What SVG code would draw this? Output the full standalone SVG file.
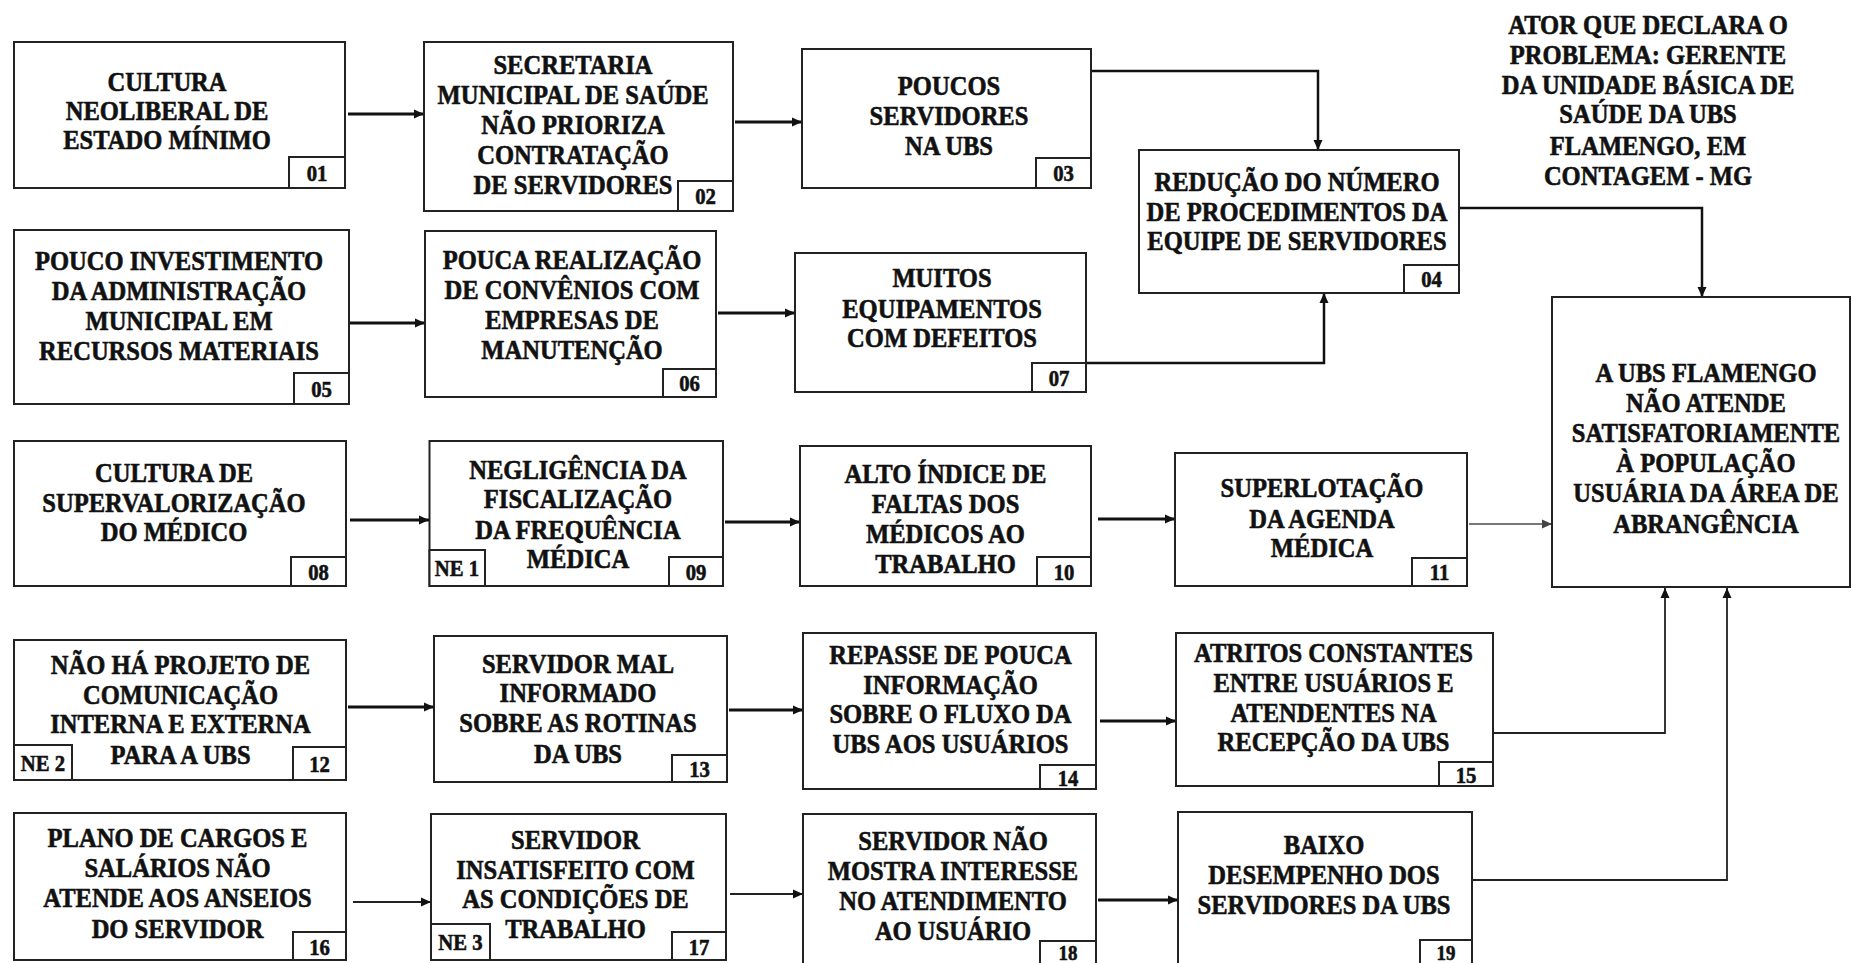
<svg xmlns="http://www.w3.org/2000/svg" width="1852" height="963" viewBox="0 0 1852 963">
<style>
.box{fill:#fff;stroke:#222;stroke-width:2}
.num{fill:#fff;stroke:#222;stroke-width:2}
text{font-family:"Liberation Serif","Times New Roman",serif;font-weight:bold;fill:#111;text-anchor:middle;stroke:#111;stroke-width:0.6}
.t text{font-size:27px}
.n text{font-size:23px}
.c{fill:none;stroke:#111;stroke-width:3}
.m{fill:none;stroke:#111;stroke-width:2.5}
.s{fill:none;stroke:#222;stroke-width:1.8}
.g{fill:none;stroke:#777;stroke-width:2}
</style>
<defs>
<marker id="ah" markerUnits="userSpaceOnUse" markerWidth="11" markerHeight="10" refX="10" refY="5" orient="auto"><path d="M0,0.5 L10,5 L0,9.5 z" fill="#111"/></marker>
<marker id="ahg" markerUnits="userSpaceOnUse" markerWidth="11" markerHeight="10" refX="10" refY="5" orient="auto"><path d="M0,0.5 L10,5 L0,9.5 z" fill="#444"/></marker>
</defs>
<rect width="1852" height="963" fill="#fff"/>

<g id="connectors">
<line class="c" x1="348" y1="114" x2="424" y2="114" marker-end="url(#ah)"/>
<line class="c" x1="735" y1="122" x2="802" y2="122" marker-end="url(#ah)"/>
<polyline class="m" points="1092,71 1318,71 1318,150" marker-end="url(#ah)"/>
<polyline class="m" points="1086,363 1324,363 1324,293" marker-end="url(#ah)"/>
<polyline class="m" points="1460,208 1702,208 1702,297" marker-end="url(#ah)"/>
<line class="c" x1="350" y1="323" x2="425" y2="323" marker-end="url(#ah)"/>
<line class="c" x1="718" y1="313" x2="795" y2="313" marker-end="url(#ah)"/>
<line class="c" x1="350" y1="520" x2="429" y2="520" marker-end="url(#ah)"/>
<line class="c" x1="725" y1="522" x2="800" y2="522" marker-end="url(#ah)"/>
<line class="c" x1="1098" y1="519" x2="1175" y2="519" marker-end="url(#ah)"/>
<line class="g" x1="1469" y1="524" x2="1552" y2="524" marker-end="url(#ahg)"/>
<line class="c" x1="348" y1="707" x2="434" y2="707" marker-end="url(#ah)"/>
<line class="c" x1="729" y1="710" x2="803" y2="710" marker-end="url(#ah)"/>
<line class="c" x1="1100" y1="721" x2="1176" y2="721" marker-end="url(#ah)"/>
<polyline class="s" points="1493,733 1665,733 1665,588" marker-end="url(#ah)"/>
<line class="s" x1="353" y1="902" x2="431" y2="902" marker-end="url(#ah)"/>
<line class="s" x1="730" y1="894" x2="803" y2="894" marker-end="url(#ah)"/>
<line class="c" x1="1098" y1="900" x2="1178" y2="900" marker-end="url(#ah)"/>
<polyline class="s" points="1472,880 1727,880 1727,588" marker-end="url(#ah)"/>
</g>

<g id="actor">
<g class="t" transform="translate(1648 0) scale(0.91 1)">
<text x="0" y="34">ATOR QUE DECLARA O</text>
<text x="0" y="64">PROBLEMA:  GERENTE</text>
<text x="0" y="94">DA UNIDADE BÁSICA DE</text>
<text x="0" y="123">SAÚDE DA UBS</text>
<text x="0" y="155">FLAMENGO, EM</text>
<text x="0" y="185">CONTAGEM  - MG</text>
</g>
</g>

<g id="n01">
<rect class="box" x="14" y="42" width="331" height="146"/>
<g class="t" transform="translate(167 0) scale(0.91 1)">
<text x="0" y="91">CULTURA</text>
<text x="0" y="120">NEOLIBERAL  DE</text>
<text x="0" y="149">ESTADO MÍNIMO</text>
</g>
<rect class="num" x="289" y="157" width="56" height="31"/>
<g class="n" transform="translate(317 0) scale(0.9 1)"><text x="0" y="181">01</text></g>
</g>

<g id="n02">
<rect class="box" x="424" y="42" width="309" height="169"/>
<g class="t" transform="translate(573 0) scale(0.91 1)">
<text x="0" y="74">SECRETARIA</text>
<text x="0" y="104">MUNICIPAL DE SAÚDE</text>
<text x="0" y="134">NÃO PRIORIZA</text>
<text x="0" y="164">CONTRATAÇÃO</text>
<text x="0" y="194">DE SERVIDORES</text>
</g>
<rect class="num" x="678" y="181" width="55" height="30"/>
<g class="n" transform="translate(705.5 0) scale(0.9 1)"><text x="0" y="204">02</text></g>
</g>

<g id="n03">
<rect class="box" x="802" y="49" width="289" height="139"/>
<g class="t" transform="translate(949 0) scale(0.91 1)">
<text x="0" y="95">POUCOS</text>
<text x="0" y="125">SERVIDORES</text>
<text x="0" y="155">NA UBS</text>
</g>
<rect class="num" x="1036" y="158" width="55" height="30"/>
<g class="n" transform="translate(1063.5 0) scale(0.9 1)"><text x="0" y="181">03</text></g>
</g>

<g id="n04">
<rect class="box" x="1139" y="150" width="320" height="143"/>
<g class="t" transform="translate(1297 0) scale(0.91 1)">
<text x="0" y="191">REDUÇÃO  DO NÚMERO</text>
<text x="0" y="221">DE PROCEDIMENTOS  DA</text>
<text x="0" y="250">EQUIPE  DE SERVIDORES</text>
</g>
<rect class="num" x="1404" y="265" width="55" height="28"/>
<g class="n" transform="translate(1431.5 0) scale(0.9 1)"><text x="0" y="287">04</text></g>
</g>

<g id="n05">
<rect class="box" x="14" y="230" width="335" height="174"/>
<g class="t" transform="translate(179 0) scale(0.91 1)">
<text x="0" y="270">POUCO INVESTIMENTO</text>
<text x="0" y="300">DA ADMINISTRAÇÃO</text>
<text x="0" y="330">MUNICIPAL EM</text>
<text x="0" y="360">RECURSOS  MATERIAIS</text>
</g>
<rect class="num" x="294" y="373" width="55" height="31"/>
<g class="n" transform="translate(321.5 0) scale(0.9 1)"><text x="0" y="397">05</text></g>
</g>

<g id="n06">
<rect class="box" x="425" y="231" width="291" height="166"/>
<g class="t" transform="translate(572 0) scale(0.91 1)">
<text x="0" y="269">POUCA REALIZAÇÃO</text>
<text x="0" y="299">DE CONVÊNIOS  COM</text>
<text x="0" y="329">EMPRESAS  DE</text>
<text x="0" y="359">MANUTENÇÃO</text>
</g>
<rect class="num" x="663" y="369" width="53" height="28"/>
<g class="n" transform="translate(689.5 0) scale(0.9 1)"><text x="0" y="391">06</text></g>
</g>

<g id="n07">
<rect class="box" x="795" y="253" width="291" height="139"/>
<g class="t" transform="translate(942 0) scale(0.91 1)">
<text x="0" y="287">MUITOS</text>
<text x="0" y="318">EQUIPAMENTOS</text>
<text x="0" y="347">COM DEFEITOS</text>
</g>
<rect class="num" x="1032" y="363" width="54" height="29"/>
<g class="n" transform="translate(1059 0) scale(0.9 1)"><text x="0" y="386">07</text></g>
</g>

<g id="n08">
<rect class="box" x="14" y="441" width="332" height="145"/>
<g class="t" transform="translate(174 0) scale(0.91 1)">
<text x="0" y="482">CULTURA DE</text>
<text x="0" y="512">SUPERVALORIZAÇÃO</text>
<text x="0" y="541">DO MÉDICO</text>
</g>
<rect class="num" x="291" y="557" width="55" height="29"/>
<g class="n" transform="translate(318.5 0) scale(0.9 1)"><text x="0" y="580">08</text></g>
</g>

<g id="n09">
<rect class="box" x="429.5" y="441" width="293.5" height="145"/>
<g class="t" transform="translate(578 0) scale(0.91 1)">
<text x="0" y="479">NEGLIGÊNCIA DA</text>
<text x="0" y="508">FISCALIZAÇÃO</text>
<text x="0" y="539">DA FREQUÊNCIA</text>
<text x="0" y="568">MÉDICA</text>
</g>
<rect class="num" x="669" y="557" width="54" height="29"/>
<g class="n" transform="translate(696 0) scale(0.9 1)"><text x="0" y="580">09</text></g>
<rect class="num" x="429.5" y="550" width="55.5" height="36"/>
<g class="n" transform="translate(457 0) scale(0.9 1)"><text x="0" y="576">NE 1</text></g>
</g>

<g id="n10">
<rect class="box" x="800" y="446" width="291" height="140"/>
<g class="t" transform="translate(945.5 0) scale(0.91 1)">
<text x="0" y="483">ALTO ÍNDICE DE</text>
<text x="0" y="513">FALTAS DOS</text>
<text x="0" y="543">MÉDICOS AO</text>
<text x="0" y="573">TRABALHO</text>
</g>
<rect class="num" x="1037" y="557" width="54" height="29"/>
<g class="n" transform="translate(1064 0) scale(0.9 1)"><text x="0" y="580">10</text></g>
</g>

<g id="n11">
<rect class="box" x="1175" y="453" width="292" height="133"/>
<g class="t" transform="translate(1322 0) scale(0.91 1)">
<text x="0" y="497">SUPERLOTAÇÃO</text>
<text x="0" y="528">DA AGENDA</text>
<text x="0" y="557">MÉDICA</text>
</g>
<rect class="num" x="1412" y="558" width="55" height="28"/>
<g class="n" transform="translate(1439.5 0) scale(0.9 1)"><text x="0" y="580">11</text></g>
</g>

<g id="n20">
<rect class="box" x="1552" y="297" width="298" height="290"/>
<g class="t" transform="translate(1706 0) scale(0.91 1)">
<text x="0" y="382">A UBS FLAMENGO</text>
<text x="0" y="412">NÃO ATENDE</text>
<text x="0" y="442">SATISFATORIAMENTE</text>
<text x="0" y="472">À POPULAÇÃO</text>
<text x="0" y="502">USUÁRIA DA ÁREA DE</text>
<text x="0" y="533">ABRANGÊNCIA</text>
</g>
</g>

<g id="n12">
<rect class="box" x="14" y="640" width="332" height="140"/>
<g class="t" transform="translate(180.5 0) scale(0.91 1)">
<text x="0" y="674">NÃO HÁ PROJETO  DE</text>
<text x="0" y="704">COMUNICAÇÃO</text>
<text x="0" y="733">INTERNA E EXTERNA</text>
<text x="0" y="764">PARA A UBS</text>
</g>
<rect class="num" x="293" y="747" width="53" height="33"/>
<g class="n" transform="translate(319.5 0) scale(0.9 1)"><text x="0" y="772">12</text></g>
<rect class="num" x="14" y="745" width="58" height="35"/>
<g class="n" transform="translate(43 0) scale(0.9 1)"><text x="0" y="771">NE 2</text></g>
</g>

<g id="n13">
<rect class="box" x="434" y="636" width="293" height="146"/>
<g class="t" transform="translate(578 0) scale(0.91 1)">
<text x="0" y="673">SERVIDOR  MAL</text>
<text x="0" y="702">INFORMADO</text>
<text x="0" y="732">SOBRE AS ROTINAS</text>
<text x="0" y="763">DA UBS</text>
</g>
<rect class="num" x="672" y="755" width="55" height="27"/>
<g class="n" transform="translate(699.5 0) scale(0.9 1)"><text x="0" y="777">13</text></g>
</g>

<g id="n14">
<rect class="box" x="803" y="633" width="293" height="156"/>
<g class="t" transform="translate(950.5 0) scale(0.91 1)">
<text x="0" y="664">REPASSE DE POUCA</text>
<text x="0" y="694">INFORMAÇÃO</text>
<text x="0" y="723">SOBRE O FLUXO DA</text>
<text x="0" y="753">UBS AOS USUÁRIOS</text>
</g>
<rect class="num" x="1040" y="765" width="56" height="24"/>
<g class="n" transform="translate(1068 0) scale(0.9 1)"><text x="0" y="786">14</text></g>
</g>

<g id="n15">
<rect class="box" x="1176" y="633" width="317" height="153"/>
<g class="t" transform="translate(1333.5 0) scale(0.91 1)">
<text x="0" y="662">ATRITOS CONSTANTES</text>
<text x="0" y="692">ENTRE USUÁRIOS  E</text>
<text x="0" y="722">ATENDENTES  NA</text>
<text x="0" y="751">RECEPÇÃO DA UBS</text>
</g>
<rect class="num" x="1439" y="762" width="54" height="24"/>
<g class="n" transform="translate(1466 0) scale(0.9 1)"><text x="0" y="783">15</text></g>
</g>

<g id="n16">
<rect class="box" x="14" y="813" width="332" height="147"/>
<g class="t" transform="translate(177.5 0) scale(0.91 1)">
<text x="0" y="847">PLANO DE CARGOS  E</text>
<text x="0" y="877">SALÁRIOS NÃO</text>
<text x="0" y="907">ATENDE AOS ANSEIOS</text>
<text x="0" y="938">DO SERVIDOR</text>
</g>
<rect class="num" x="293" y="932" width="53" height="28"/>
<g class="n" transform="translate(319.5 0) scale(0.9 1)"><text x="0" y="955">16</text></g>
</g>

<g id="n17">
<rect class="box" x="431" y="814" width="295" height="146"/>
<g class="t" transform="translate(575.5 0) scale(0.91 1)">
<text x="0" y="849">SERVIDOR</text>
<text x="0" y="879">INSATISFEITO  COM</text>
<text x="0" y="908">AS CONDIÇÕES  DE</text>
<text x="0" y="938">TRABALHO</text>
</g>
<rect class="num" x="672" y="932" width="54" height="28"/>
<g class="n" transform="translate(699 0) scale(0.9 1)"><text x="0" y="955">17</text></g>
<rect class="num" x="431" y="924" width="59" height="36"/>
<g class="n" transform="translate(460.5 0) scale(0.9 1)"><text x="0" y="950">NE 3</text></g>
</g>

<g id="n18">
<rect class="box" x="803" y="814" width="293" height="150"/>
<g class="t" transform="translate(953 0) scale(0.91 1)">
<text x="0" y="850">SERVIDOR NÃO</text>
<text x="0" y="880">MOSTRA INTERESSE</text>
<text x="0" y="910">NO ATENDIMENTO</text>
<text x="0" y="940">AO USUÁRIO</text>
</g>
<rect class="num" x="1040" y="941" width="56" height="23"/>
<g class="n" transform="translate(1068 0) scale(0.9 1)"><text x="0" y="960" style="font-size:21px">18</text></g>
</g>

<g id="n19">
<rect class="box" x="1178" y="812" width="294" height="152"/>
<g class="t" transform="translate(1324 0) scale(0.91 1)">
<text x="0" y="854">BAIXO</text>
<text x="0" y="884">DESEMPENHO  DOS</text>
<text x="0" y="914">SERVIDORES  DA UBS</text>
</g>
<rect class="num" x="1420" y="940" width="52" height="24"/>
<g class="n" transform="translate(1446 0) scale(0.9 1)"><text x="0" y="960" style="font-size:21px">19</text></g>
</g>
</svg>
